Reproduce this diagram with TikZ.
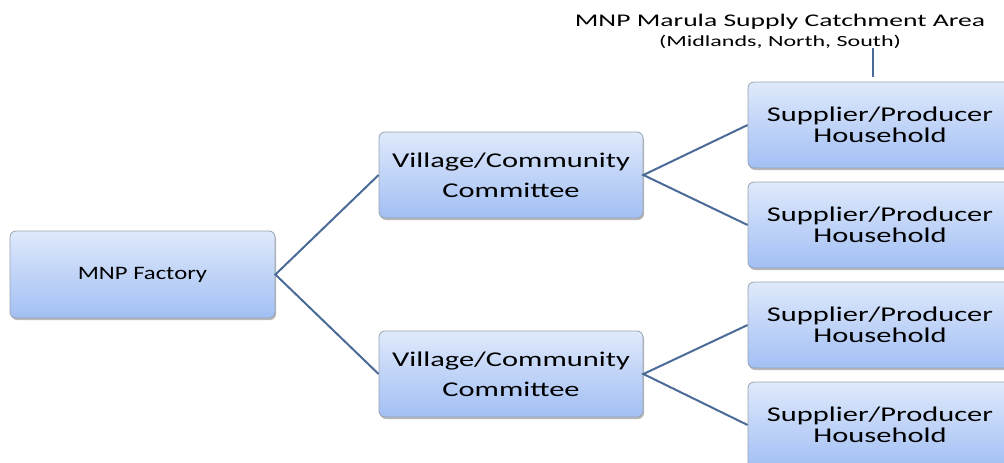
\documentclass[tikz,border=0pt]{standalone}
\usepackage{fontspec}
\setmainfont{Carlito}
\newfontfamily\boxfont[FakeStretch=1.45]{Carlito}
\newfontfamily\factfont[FakeStretch=1.3]{Carlito}
\newfontfamily\titlefont[FakeStretch=1.55]{Carlito}
\usetikzlibrary{shadows}
\definecolor{boxtop}{HTML}{DFE9FB}
\definecolor{boxbot}{HTML}{A2BFF4}
\definecolor{boxline}{HTML}{98A2B0}
\definecolor{linkblue}{HTML}{4A6A98}
\tikzset{
	unitbox/.style={rounded corners=6pt,draw=boxline,line width=0.8pt,top color=boxtop,bottom color=boxbot,
		minimum width=264pt,minimum height=86pt,inner sep=0pt,align=center,
		drop shadow={shadow xshift=1pt,shadow yshift=-2pt,opacity=0.55}},
	link/.style={draw=linkblue,line width=2pt}
}
\begin{document}
\begin{tikzpicture}[x=1pt,y=-1pt]
				\clip (0,0) rectangle (1004,463);
				\node[unitbox,minimum width=265pt,minimum height=87pt,font=\factfont\fontsize{19}{19}\selectfont] (F) at (142.5,274.5) {MNP Factory};
				\node[unitbox,font=\boxfont\fontsize{21}{30}\selectfont] (V1) at (511,175) {Village/Community\\Committee};
				\node[unitbox,font=\boxfont\fontsize{21}{30}\selectfont] (V2) at (511,374) {Village/Community\\Committee};
				\foreach \n/\y in {1/125,2/225,3/325,4/425}
					\node[unitbox,font=\boxfont\fontsize{21}{21}\selectfont] (S\n) at (880,\y) {Supplier/Producer\\Household};
				\node[align=center,inner sep=0pt,font=\titlefont\fontsize{17.8}{20}\selectfont] (T) at (780,31)
					{MNP Marula Supply Catchment Area\\{\fontsize{15.5}{20}\selectfont(Midlands, North, South)}};
				\coordinate (K) at (873,77);
				\draw[link,line width=1.5pt] (K |- T.south) -- (K);
				\draw[link] (V1.west) -- (F.east) -- (V2.west);
				\draw[link] (S1.west) -- (V1.east) -- (S2.west);
				\draw[link] (S3.west) -- (V2.east) -- (S4.west);
			\end{tikzpicture}
\end{document}
